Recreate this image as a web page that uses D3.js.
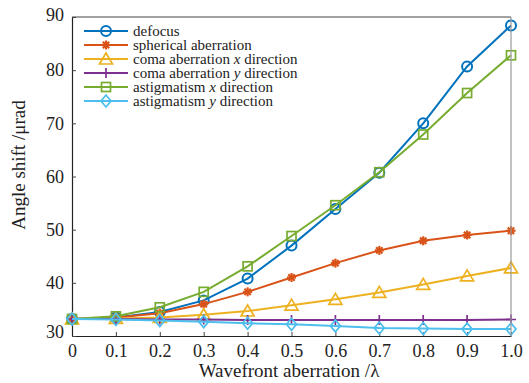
<!DOCTYPE html>
<html>
<head>
<meta charset="utf-8">
<script src="https://cdn.jsdelivr.net/npm/d3@7"></script>
<style>
  html, body { margin: 0; padding: 0; background: #fff; }
  svg { display: block; }
  text { font-family: "Liberation Serif", "Times New Roman", serif; fill: #222; }
</style>
</head>
<body>
<svg id="chart" width="529" height="383"></svg>
<script>
// Wavefront aberration (in wavelengths)
const aberration = [0, 0.1, 0.2, 0.3, 0.4, 0.5, 0.6, 0.7, 0.8, 0.9, 1.0];
const xTickLabels = ["0", "0.1", "0.2", "0.3", "0.4", "0.5", "0.6", "0.7", "0.8", "0.9", "1.0"];
const yTicks = [30, 40, 50, 60, 70, 80, 90];

// Angle shift (μrad) for each aberration type
const defocus      = [33.2, 33.5, 34.5, 36.7, 40.8, 47.0, 53.9, 60.7, 70.0, 80.7, 88.4];
const spherical    = [33.2, 33.5, 34.3, 36.0, 38.3, 41.0, 43.7, 46.1, 47.9, 49.0, 49.8];
const comaX        = [33.2, 33.3, 33.5, 34.0, 34.7, 35.8, 36.9, 38.2, 39.7, 41.3, 42.8];
const comaY        = [33.2, 33.2, 33.1, 33.1, 33.0, 33.0, 33.0, 33.0, 33.0, 33.0, 33.1];
const astigX       = [33.2, 33.7, 35.4, 38.3, 43.1, 48.8, 54.6, 60.8, 67.9, 75.7, 82.8];
const astigY       = [33.2, 33.1, 32.9, 32.7, 32.4, 32.2, 31.9, 31.5, 31.4, 31.3, 31.3];

const seriesNames  = ["defocus", "spherical aberration", "coma aberration x direction",
                      "coma aberration y direction", "astigmatism x direction", "astigmatism y direction"];
const seriesColors = ["#0072BD", "#D95319", "#EDB120", "#7E2F8E", "#77AC30", "#4DBEEE"];
const seriesMarkers = ["circle", "asterisk", "triangle", "plus", "square", "diamond"];
const seriesValues = [defocus, spherical, comaX, comaY, astigX, astigY];

const svg = d3.select("#chart");
const plotLeft = 72, plotRight = 511, plotTop = 17, plotBottom = 336;

const x = d3.scaleLinear().domain([0, 1]).range([plotLeft, plotRight]);
const y = d3.scaleLinear().domain([30, 90]).range([plotBottom, plotTop]);

// Axes box
svg.append("line").attr("x1", plotLeft).attr("x2", plotRight).attr("y1", plotTop).attr("y2", plotTop)
  .attr("stroke", "#444").attr("stroke-width", 1);

const gx = svg.append("g").attr("transform", `translate(0,${plotBottom})`)
  .call(d3.axisBottom(x).tickValues(aberration).tickSizeInner(-4).tickSizeOuter(0)
        .tickFormat((d, i) => xTickLabels[i]).tickPadding(8));
const gy = svg.append("g").attr("transform", `translate(${plotLeft},0)`)
  .call(d3.axisLeft(y).tickValues(yTicks).tickSizeInner(-4).tickSizeOuter(0).tickPadding(8));

[gx, gy].forEach(g => {
  g.select(".domain").attr("stroke", "#222").attr("stroke-width", 1.2);
  g.selectAll(".tick line").attr("stroke", "#444");
  g.selectAll(".tick text").attr("font-size", 18).attr("fill", "#222")
    .style("font-family", "'Liberation Serif', serif");
});
gx.selectAll(".tick text").attr("dy", "0.72em");
// The corner labels "30" and "90" sit slightly off their ticks
gy.selectAll(".tick text").filter(d => d === 30).attr("dy", "0.1em");
gy.selectAll(".tick text").filter(d => d === 90).attr("dy", "0.2em");

// Axis titles
svg.append("text").attr("x", 289).attr("y", 377).attr("text-anchor", "middle")
  .attr("font-size", 19).text("Wavefront aberration /λ");
svg.append("text").attr("transform", "translate(25,165) rotate(-90)")
  .attr("text-anchor", "middle").attr("font-size", 19).text("Angle shift /μrad");

// Marker drawing
function drawMarker(g, type, color) {
  const sw = 1.7;
  switch (type) {
    case "circle":
      g.append("circle").attr("r", 5).attr("fill", "none").attr("stroke", color).attr("stroke-width", 2);
      break;
    case "asterisk":
      [0, 45, 90, 135].forEach(a => {
        const r = 4.5, t = a * Math.PI / 180;
        g.append("line").attr("x1", -r * Math.cos(t)).attr("y1", -r * Math.sin(t))
          .attr("x2", r * Math.cos(t)).attr("y2", r * Math.sin(t))
          .attr("stroke", color).attr("stroke-width", 2.2);
      });
      break;
    case "triangle":
      g.append("path").attr("d", "M0,-6L6.5,5L-6.5,5Z").attr("fill", "none")
        .attr("stroke", color).attr("stroke-width", sw);
      break;
    case "plus":
      g.append("path").attr("d", "M-5,0H5M0,-5V5").attr("stroke", color).attr("stroke-width", sw);
      break;
    case "square":
      g.append("rect").attr("x", -4.5).attr("y", -4.5).attr("width", 9).attr("height", 9)
        .attr("fill", "none").attr("stroke", color).attr("stroke-width", sw);
      break;
    case "diamond":
      g.append("path").attr("d", "M0,-6L5,0L0,6L-5,0Z").attr("fill", "none")
        .attr("stroke", color).attr("stroke-width", sw);
      break;
  }
}

// Series lines and markers
const line = d3.line().x((d, i) => x(aberration[i])).y(d => y(d));
seriesValues.forEach((vals, s) => {
  const g = svg.append("g");
  g.append("path").datum(vals).attr("d", line).attr("fill", "none")
    .attr("stroke", seriesColors[s]).attr("stroke-width", 2);
  vals.forEach((v, i) => {
    const m = g.append("g").attr("transform", `translate(${x(aberration[i])},${y(v)})`);
    drawMarker(m, seriesMarkers[s], seriesColors[s]);
  });
});

// Right border drawn over the data, as a light grey line
svg.append("line").attr("x1", plotRight).attr("x2", plotRight).attr("y1", plotTop).attr("y2", plotBottom)
  .attr("stroke", "#999").attr("stroke-width", 1.2);

// Legend
const legend = svg.append("g");
seriesNames.forEach((name, s) => {
  const ly = 31 + s * 14;
  legend.append("line").attr("x1", 84).attr("x2", 128).attr("y1", ly).attr("y2", ly)
    .attr("stroke", seriesColors[s]).attr("stroke-width", 2);
  const m = legend.append("g").attr("transform", `translate(106,${ly})`);
  drawMarker(m, seriesMarkers[s], seriesColors[s]);
  const t = legend.append("text").attr("x", 133).attr("y", ly + 4.5).attr("font-size", 15);
  const parts = name.split(/ (x|y) /);
  if (parts.length === 3) {
    t.append("tspan").text(parts[0] + " ");
    t.append("tspan").attr("font-style", "italic").text(parts[1]);
    t.append("tspan").text(" " + parts[2]);
  } else {
    t.text(name);
  }
});
</script>
</body>
</html>
